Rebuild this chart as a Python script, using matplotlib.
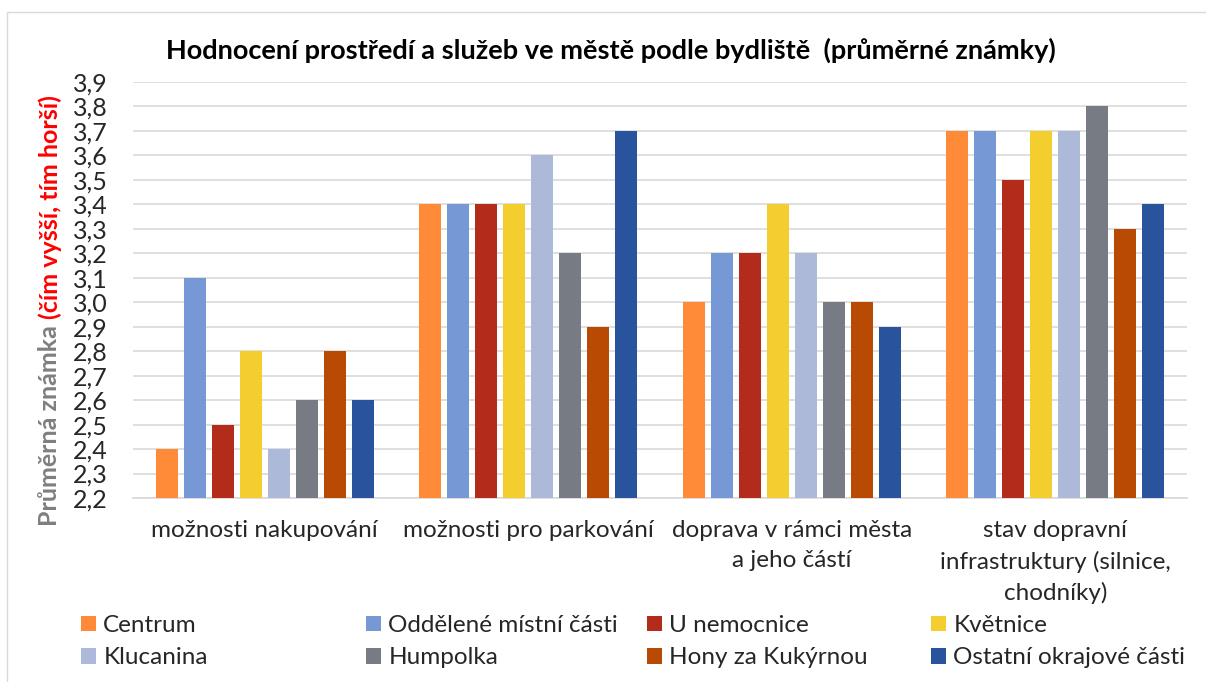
import matplotlib
matplotlib.use("Agg")
import matplotlib.pyplot as plt
import numpy as np
from matplotlib.patches import Rectangle

plt.rcParams['font.family'] = ['Lato', 'DejaVu Sans']

categories = ["možnosti nakupování", "možnosti pro parkování",
              "doprava v rámci města\na jeho částí",
              "stav dopravní\ninfrastruktury (silnice,\nchodníky)"]
series_names = ["Centrum", "Oddělené místní části", "U nemocnice", "Květnice",
                "Klucanina", "Humpolka", "Hony za Kukýrnou", "Ostatní okrajové části"]
centrum = [2.4, 3.4, 3.0, 3.7]
oddelene = [3.1, 3.4, 3.2, 3.7]
u_nemocnice = [2.5, 3.4, 3.2, 3.5]
kvetnice = [2.8, 3.4, 3.4, 3.7]
klucanina = [2.4, 3.6, 3.2, 3.7]
humpolka = [2.6, 3.2, 3.0, 3.8]
hony = [2.8, 2.9, 3.0, 3.3]
ostatni = [2.6, 3.7, 2.9, 3.4]
values = [centrum, oddelene, u_nemocnice, kvetnice, klucanina, humpolka, hony, ostatni]
colors = ["#FF8B38", "#7699D6", "#B22B1B", "#F4CD2E", "#ADB9D8", "#777B84", "#B94A04", "#2A539E"]
yticks = [round(2.2 + 0.1 * i, 1) for i in range(18)]
ytick_labels = [f"{v:.1f}".replace(".", ",") for v in yticks]

W, H = 1206, 682
fig = plt.figure(figsize=(W / 100, H / 100), dpi=100)
fig.patches.append(Rectangle((7 / W, 0 - 0.01), 1.05, 1 - 12 / H + 0.01, transform=fig.transFigure,
                             fill=False, edgecolor="#D9D9D9", linewidth=1.0, zorder=0))
ax = fig.add_axes([133 / W, 1 - 498 / H, (1187 - 133) / W, (498 - 82) / H])

x = np.arange(len(categories))
pitch = 28 / 263.5
bw = 22 / 263.5
n = len(values)
handles = []
for i, (vals, c) in enumerate(zip(values, colors)):
    off = (i - (n - 1) / 2) * pitch
    b = ax.bar(x + off, np.array(vals) - 2.2, bw, bottom=2.2, color=c, label=series_names[i], zorder=3)
    handles.append(b)

ax.set_xlim(-0.5, 3.5)
ax.set_ylim(2.2, 3.9)
ax.set_yticks(yticks)
ax.set_yticklabels(ytick_labels)
ax.set_xticks(x)
ax.set_xticklabels(categories, linespacing=1.52)
ax.tick_params(axis='y', length=0, pad=18, labelsize=18, labelcolor="#262626")
ax.tick_params(axis='x', length=0, pad=16, labelsize=17.5, labelcolor="#262626")
ax.grid(axis='y', color="#D9D9D9", linewidth=1.2, zorder=0)
for s in ["top", "right", "left"]:
    ax.spines[s].set_visible(False)
ax.spines["bottom"].set_color("#D9D9D9")
ax.spines["bottom"].set_linewidth(1.2)

fig.text(611 / W, 1 - 50 / H, "Hodnocení prostředí a služeb ve městě podle bydliště  (průměrné známky)",
         ha='center', va='center', fontsize=19.5, fontweight='bold', color="#000000")

# y label in two colours
ylx = 50 / W
ylb = 1 - 526 / H
t1 = fig.text(ylx, ylb, "Průměrná známka ", rotation=90, ha='center', va='bottom',
              fontsize=18, fontweight='bold', color="#7F7F7F")
fig.canvas.draw()
r = fig.canvas.get_renderer()
bb = t1.get_window_extent(r)
fig.text(ylx, ylb + bb.height / H, "(čím vyšší, tím horší)", rotation=90, ha='center', va='bottom',
         fontsize=18, fontweight='bold', color="#FF0000")

# legend: 4 columns x 2 rows
col_x = [81, 366, 647, 931]
for ci in range(4):
    hs = [handles[ci], handles[ci + 4]]
    fig.legend(hs, [series_names[ci], series_names[ci + 4]], loc='upper left',
               bbox_to_anchor=(col_x[ci] / W, 1 - 615 / H), frameon=False, fontsize=17.5,
               handlelength=0.62, handleheight=0.62, handletextpad=0.3, labelspacing=0.47,
               borderpad=0, borderaxespad=0, labelcolor="#262626")

fig.savefig("out.png", dpi=100)
